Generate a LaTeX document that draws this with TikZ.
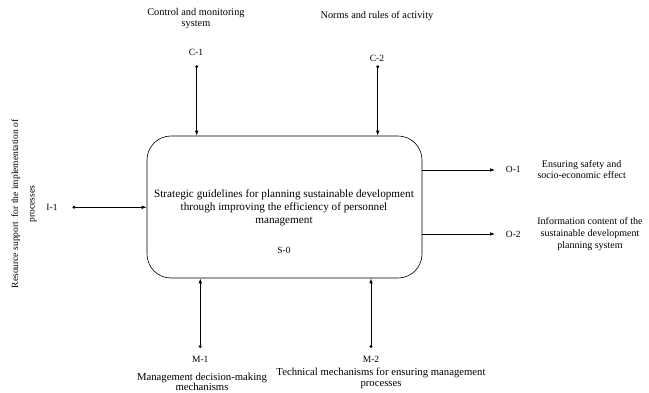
\documentclass[tikz,border=0pt]{standalone}
\usepackage{fontspec}
\setmainfont{Liberation Serif}
\usetikzlibrary{arrows.meta}
\begin{document}
\begin{tikzpicture}[x=1pt,y=1pt,
  lbl/.style={inner sep=0pt,align=center,font=\fontsize{10}{11.5}\selectfont},
  code/.style={inner sep=0pt,font=\fontsize{9.5}{11}\selectfont},
  arr/.style={line width=0.8pt,-{Latex[length=5pt,width=3.6pt]}},
  dotc/.style={fill=black,circle,inner sep=0pt,minimum size=3.2pt}]
\useasboundingbox (0,0) rectangle (649,-393);
% main box
\node[draw,line width=0.6pt,rounded corners=24pt,minimum width=275pt,minimum height=142pt,inner sep=0pt] (box) at (284.5,-207) {};
\node[lbl,font=\fontsize{11.2}{12.8}\selectfont] (title) at (284,-207.8) {Strategic guidelines for planning sustainable development\\through improving the efficiency of personnel\\management};
\node[code] (s0) at (284,-250) {S-0};
% controls
\node[lbl,font=\fontsize{10.3}{11.2}\selectfont] (tc1) at (196,-18.5) {Control and monitoring\\system};
\node[lbl,font=\fontsize{10.3}{11.2}\selectfont] (tc2) at (377,-15.7) {Norms and rules of activity};
\node[code] (lc1) at (196,-52.7) {C-1};
\node[code] (lc2) at (377,-58.3) {C-2};
\node[dotc] (c1) at (196.7,-66.7) {};
\node[dotc] (c2) at (377.7,-66.7) {};
\draw[arr] (c1.center) -- (c1 |- box.north);
\draw[arr] (c2.center) -- (c2 |- box.north);
% input
\node[lbl,rotate=90,font=\fontsize{9.5}{16.5}\selectfont] (ti1) at (24,-204) {Resource support\ \ for the implementation of\\processes};
\node[code] (li1) at (52,-207.3) {I-1};
\node[dotc] (i1) at (74,-207.3) {};
\draw[arr] (i1.center) -- (i1 -| box.west);
% outputs
\coordinate (o1) at (495,-170);
\coordinate (o2) at (495,-234);
\draw[arr] (o1 -| box.east) -- (o1);
\draw[arr] (o2 -| box.east) -- (o2);
\node[code] (lo1) at (513.3,-169) {O-1};
\node[code] (lo2) at (513.3,-234) {O-2};
\node[lbl,font=\fontsize{10}{11}\selectfont] (to1) at (581.7,-169.5) {Ensuring safety and\\socio-economic effect};
\node[lbl,font=\fontsize{10}{12}\selectfont] (to2) at (590,-234) {Information content of the\\sustainable development\\planning system};
% mechanisms
\node[dotc] (m1) at (200.3,-346.5) {};
\node[dotc] (m2) at (371,-346.5) {};
\draw[arr] (m1.center) -- (m1 |- box.south);
\draw[arr] (m2.center) -- (m2 |- box.south);
\node[code] (lm1) at (200.3,-359) {M-1};
\node[code] (lm2) at (371,-359) {M-2};
\node[lbl,font=\fontsize{10.7}{10.5}\selectfont] (tm1) at (202,-381.7) {Management decision-making\\mechanisms};
\node[lbl,font=\fontsize{10.7}{11}\selectfont] (tm2) at (381,-378.5) {Technical mechanisms for ensuring management\\processes};
\end{tikzpicture}
\end{document}
